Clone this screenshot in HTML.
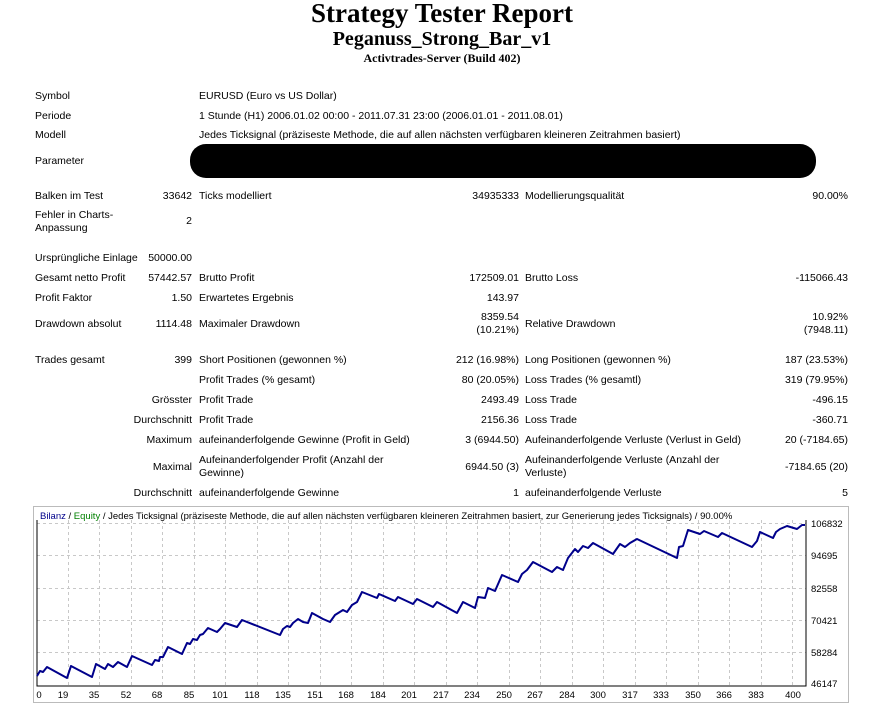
<!DOCTYPE html>
<html><head><meta charset="utf-8"><style>
body{margin:0;width:873px;height:703px;background:#fff;position:relative;overflow:hidden;font-family:"Liberation Sans",sans-serif;font-size:10.5px;color:#000}
div{position:absolute;white-space:nowrap;line-height:13px}
.t{left:0;width:884px;text-align:center;font-family:"Liberation Serif",serif;font-weight:bold}
.r{text-align:right}
</style></head><body>
<div class="t" style="top:-2px;font-size:27px;line-height:30px">Strategy Tester Report</div>
<div class="t" style="top:27px;font-size:20px;line-height:24px">Peganuss_Strong_Bar_v1</div>
<div class="t" style="top:51px;font-size:12px;line-height:14px">Activtrades-Server (Build 402)</div>

<div style="left:35px;top:90px">Symbol</div><div style="left:199px;top:90px">EURUSD (Euro vs US Dollar)</div>
<div style="left:35px;top:110px">Periode</div><div style="left:199px;top:110px">1 Stunde (H1) 2006.01.02 00:00 - 2011.07.31 23:00 (2006.01.01 - 2011.08.01)</div>
<div style="left:35px;top:129px">Modell</div><div style="left:199px;top:129px">Jedes Ticksignal (präziseste Methode, die auf allen nächsten verfügbaren kleineren Zeitrahmen basiert)</div>
<div style="left:35px;top:155px">Parameter</div>
<div style="left:190px;top:144px;width:626px;height:34px;background:#000;border-radius:16px"></div>

<div style="left:35px;top:190px">Balken im Test</div><div class="r" style="right:681px;top:190px">33642</div>
<div style="left:199px;top:190px">Ticks modelliert</div><div class="r" style="right:354px;top:190px">34935333</div>
<div style="left:525px;top:190px">Modellierungsqualität</div><div class="r" style="right:25px;top:190px">90.00%</div>
<div style="left:35px;top:209px">Fehler in Charts-<br>Anpassung</div><div class="r" style="right:681px;top:215px">2</div>
<div style="left:35px;top:252px">Ursprüngliche Einlage</div><div class="r" style="right:681px;top:252px">50000.00</div>
<div style="left:35px;top:272px">Gesamt netto Profit</div><div class="r" style="right:681px;top:272px">57442.57</div>
<div style="left:199px;top:272px">Brutto Profit</div><div class="r" style="right:354px;top:272px">172509.01</div>
<div style="left:525px;top:272px">Brutto Loss</div><div class="r" style="right:25px;top:272px">-115066.43</div>
<div style="left:35px;top:292px">Profit Faktor</div><div class="r" style="right:681px;top:292px">1.50</div>
<div style="left:199px;top:292px">Erwartetes Ergebnis</div><div class="r" style="right:354px;top:292px">143.97</div>
<div style="left:35px;top:318px">Drawdown absolut</div><div class="r" style="right:681px;top:318px">1114.48</div>
<div style="left:199px;top:318px">Maximaler Drawdown</div><div class="r" style="right:354px;top:311px">8359.54<br>(10.21%)</div>
<div style="left:525px;top:318px">Relative Drawdown</div><div class="r" style="right:25px;top:311px">10.92%<br>(7948.11)</div>

<div style="left:35px;top:354px">Trades gesamt</div><div class="r" style="right:681px;top:354px">399</div>
<div style="left:199px;top:354px">Short Positionen (gewonnen %)</div><div class="r" style="right:354px;top:354px">212 (16.98%)</div>
<div style="left:525px;top:354px">Long Positionen (gewonnen %)</div><div class="r" style="right:25px;top:354px">187 (23.53%)</div>
<div style="left:199px;top:374px">Profit Trades (% gesamt)</div><div class="r" style="right:354px;top:374px">80 (20.05%)</div>
<div style="left:525px;top:374px">Loss Trades (% gesamtl)</div><div class="r" style="right:25px;top:374px">319 (79.95%)</div>
<div class="r" style="right:681px;top:394px">Grösster</div>
<div style="left:199px;top:394px">Profit Trade</div><div class="r" style="right:354px;top:394px">2493.49</div>
<div style="left:525px;top:394px">Loss Trade</div><div class="r" style="right:25px;top:394px">-496.15</div>
<div class="r" style="right:681px;top:414px">Durchschnitt</div>
<div style="left:199px;top:414px">Profit Trade</div><div class="r" style="right:354px;top:414px">2156.36</div>
<div style="left:525px;top:414px">Loss Trade</div><div class="r" style="right:25px;top:414px">-360.71</div>
<div class="r" style="right:681px;top:434px">Maximum</div>
<div style="left:199px;top:434px">aufeinanderfolgende Gewinne (Profit in Geld)</div><div class="r" style="right:354px;top:434px">3 (6944.50)</div>
<div style="left:525px;top:434px">Aufeinanderfolgende Verluste (Verlust in Geld)</div><div class="r" style="right:25px;top:434px">20 (-7184.65)</div>
<div class="r" style="right:681px;top:461px">Maximal</div>
<div style="left:199px;top:454px">Aufeinanderfolgender Profit (Anzahl der<br>Gewinne)</div><div class="r" style="right:354px;top:461px">6944.50 (3)</div>
<div style="left:525px;top:454px">Aufeinanderfolgende Verluste (Anzahl der<br>Verluste)</div><div class="r" style="right:25px;top:461px">-7184.65 (20)</div>
<div class="r" style="right:681px;top:487px">Durchschnitt</div>
<div style="left:199px;top:487px">aufeinanderfolgende Gewinne</div><div class="r" style="right:354px;top:487px">1</div>
<div style="left:525px;top:487px">aufeinanderfolgende Verluste</div><div class="r" style="right:25px;top:487px">5</div>

<svg style="position:absolute;left:0;top:0" width="873" height="703">
<rect x="33.5" y="506.5" width="815" height="196" fill="none" stroke="#bbb"/>
<g stroke="#c8c8c8" stroke-dasharray="3,3" stroke-width="1">
<line x1="37" y1="523.5" x2="806" y2="523.5"/><line x1="37" y1="555.5" x2="806" y2="555.5"/><line x1="37" y1="588.5" x2="806" y2="588.5"/><line x1="37" y1="620.5" x2="806" y2="620.5"/><line x1="37" y1="652.5" x2="806" y2="652.5"/>
<line x1="68.5" y1="520" x2="68.5" y2="686"/><line x1="99.5" y1="520" x2="99.5" y2="686"/><line x1="131.5" y1="520" x2="131.5" y2="686"/><line x1="162.5" y1="520" x2="162.5" y2="686"/><line x1="194.5" y1="520" x2="194.5" y2="686"/><line x1="225.5" y1="520" x2="225.5" y2="686"/><line x1="257.5" y1="520" x2="257.5" y2="686"/><line x1="288.5" y1="520" x2="288.5" y2="686"/><line x1="320.5" y1="520" x2="320.5" y2="686"/><line x1="351.5" y1="520" x2="351.5" y2="686"/><line x1="383.5" y1="520" x2="383.5" y2="686"/><line x1="414.5" y1="520" x2="414.5" y2="686"/><line x1="446.5" y1="520" x2="446.5" y2="686"/><line x1="477.5" y1="520" x2="477.5" y2="686"/><line x1="509.5" y1="520" x2="509.5" y2="686"/><line x1="540.5" y1="520" x2="540.5" y2="686"/><line x1="572.5" y1="520" x2="572.5" y2="686"/><line x1="603.5" y1="520" x2="603.5" y2="686"/><line x1="635.5" y1="520" x2="635.5" y2="686"/><line x1="666.5" y1="520" x2="666.5" y2="686"/><line x1="698.5" y1="520" x2="698.5" y2="686"/><line x1="729.5" y1="520" x2="729.5" y2="686"/><line x1="761.5" y1="520" x2="761.5" y2="686"/><line x1="792.5" y1="520" x2="792.5" y2="686"/>
</g>
<polyline fill="none" stroke="#000" stroke-width="1" points="37,520 37,686 806,686 806,520"/>
<polyline fill="none" stroke="#00008b" stroke-width="2" stroke-linejoin="round" points="37,676 40,671 43,672 47,667 67,678 71,666 92,677 96,664 105,669 108,664 113,667 118,662 127,667 132,656 152,665 155,660 159,661 160,657 163,657 168,647 182,654 187,643 190,644 193,639 197,640 200,635 203,634 208,628 217,632 220,629 225,623 237,627 242,620 280,635 283,629 287,626 290,627 293,623 298,619 303,622 308,623 312,613 323,619 330,622 335,615 343,610 347,612 352,605 357,602 362,592 377,598 379,594 395,601 398,597 413,604 417,599 433,607 437,602 457,613 463,602 475,608 478,597 485,598 488,588 495,591 502,575 518,582 522,574 527,570 533,562 552,572 557,567 563,570 568,558 575,549 578,552 583,546 588,548 593,543 613,554 620,544 625,547 630,543 637,539 677,558 679,547 683,546 688,530 700,534 704,531 718,537 722,533 752,547 757,541 760,532 773,538 776,532 780,529 787,526 797,529 802,525 805,525"/>
<text x="40" y="519" font-family="Liberation Sans,sans-serif" font-size="9.5" fill="#00008b">Bilanz <tspan fill="#000">/</tspan> <tspan fill="#008000">Equity</tspan> <tspan fill="#000">/ Jedes  Ticksignal (präziseste Methode, die auf allen nächsten verfügbaren kleineren Zeitrahmen basiert, zur Generierung jedes Ticksignals) / 90.00%</tspan></text>
<g font-family="Liberation Sans,sans-serif" font-size="9.5" fill="#000">
<text x="811" y="527">106832</text><text x="811" y="559">94695</text><text x="811" y="592">82558</text><text x="811" y="624">70421</text><text x="811" y="656">58284</text><text x="811" y="687">46147</text>
</g>
<g font-family="Liberation Sans,sans-serif" font-size="9.5" fill="#000" text-anchor="middle">
<text x="39" y="698">0</text><text x="63" y="698">19</text><text x="94" y="698">35</text><text x="126" y="698">52</text><text x="157" y="698">68</text><text x="189" y="698">85</text><text x="220" y="698">101</text><text x="252" y="698">118</text><text x="283" y="698">135</text><text x="315" y="698">151</text><text x="346" y="698">168</text><text x="378" y="698">184</text><text x="409" y="698">201</text><text x="441" y="698">217</text><text x="472" y="698">234</text><text x="504" y="698">250</text><text x="535" y="698">267</text><text x="567" y="698">284</text><text x="598" y="698">300</text><text x="630" y="698">317</text><text x="661" y="698">333</text><text x="693" y="698">350</text><text x="724" y="698">366</text><text x="756" y="698">383</text><text x="793" y="698">400</text>
</g>
</svg>
</body></html>
